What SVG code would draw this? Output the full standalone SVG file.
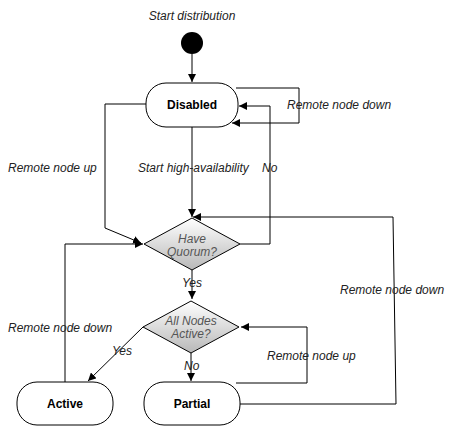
<svg xmlns="http://www.w3.org/2000/svg" width="458" height="429" viewBox="0 0 458 429">
<style>
.lbl{font-family:"Liberation Sans",Arial,sans-serif;font-size:12px;font-style:italic;fill:#222}
.dlbl{font-family:"Liberation Sans",Arial,sans-serif;font-size:12px;font-style:italic;fill:#555;text-anchor:middle}
.nlbl{font-family:"Liberation Sans",Arial,sans-serif;font-size:12px;font-weight:bold;fill:#000;text-anchor:middle}
.state{fill:#fff;stroke:#000;stroke-width:1}
.dec{fill:url(#g);stroke:#000;stroke-width:1}
.c{fill:none;stroke:#000;stroke-width:1}
</style>
<defs>
<linearGradient id="g" x1="0" y1="0" x2="0" y2="1">
<stop offset="0" stop-color="#ffffff"/>
<stop offset="1" stop-color="#b8b8b8"/>
</linearGradient>
<marker id="a" viewBox="0 0 10 10" refX="10" refY="5" markerWidth="8" markerHeight="8" markerUnits="userSpaceOnUse" orient="auto">
<path d="M0,0 L10,5 L0,10 Z" fill="#000"/>
</marker>
</defs>
<g id="connectors">
<path class="c" d="M192,54 L192,82" marker-end="url(#a)"/>
<path class="c" d="M236,88 L299,88 L299,123 L232,123" marker-end="url(#a)"/>
<path class="c" d="M146,104 L105,104 L105,228 L141,243" marker-end="url(#a)"/>
<path class="c" d="M192,127 L192,217" marker-end="url(#a)"/>
<path class="c" d="M240,244 L270,244 L270,106 L239,106" marker-end="url(#a)"/>
<path class="c" d="M192,270 L192,299" marker-end="url(#a)"/>
<path class="c" d="M143,327 L88,381" marker-end="url(#a)"/>
<path class="c" d="M191,353 L191,381" marker-end="url(#a)"/>
<path class="c" d="M236,383 L307,383 L307,327 L241,327" marker-end="url(#a)"/>
<path class="c" d="M240,404 L396,404 L393,217 L193,217" marker-end="url(#a)"/>
<path class="c" d="M65,382 L65,244 L143,244" marker-end="url(#a)"/>
</g>
<g id="labels">
<text class="lbl" x="192" y="20" text-anchor="middle">Start distribution</text>
<text class="lbl" x="287" y="109">Remote node down</text>
<text class="lbl" x="8" y="172">Remote node up</text>
<text class="lbl" x="138" y="172">Start high-availability</text>
<text class="lbl" x="262" y="172">No</text>
<text class="lbl" x="182" y="287">Yes</text>
<text class="lbl" x="340" y="294">Remote node down</text>
<text class="lbl" x="8" y="332">Remote node down</text>
<text class="lbl" x="112" y="355">Yes</text>
<text class="lbl" x="184" y="370">No</text>
<text class="lbl" x="267" y="360">Remote node up</text>
</g>
<g id="start"><circle cx="192" cy="43" r="11" fill="#000"/></g>
<g id="disabled">
<rect class="state" x="146" y="83" width="92" height="44" rx="20" ry="20"/>
<text class="nlbl" x="192" y="109">Disabled</text>
</g>
<g id="quorum">
<polygon class="dec" points="192,218 240,244 192,270 144,244"/>
<text class="dlbl" x="192" y="243">Have</text>
<text class="dlbl" x="192" y="256">Quorum?</text>
</g>
<g id="allactive">
<polygon class="dec" points="191,301 239,327 191,353 143,327"/>
<text class="dlbl" x="191" y="325">All Nodes</text>
<text class="dlbl" x="191" y="338">Active?</text>
</g>
<g id="active">
<rect class="state" x="17" y="382" width="96" height="43" rx="20" ry="20"/>
<text class="nlbl" x="65" y="408">Active</text>
</g>
<g id="partial">
<rect class="state" x="144" y="382" width="96" height="43" rx="20" ry="20"/>
<text class="nlbl" x="192" y="408">Partial</text>
</g>
</svg>
